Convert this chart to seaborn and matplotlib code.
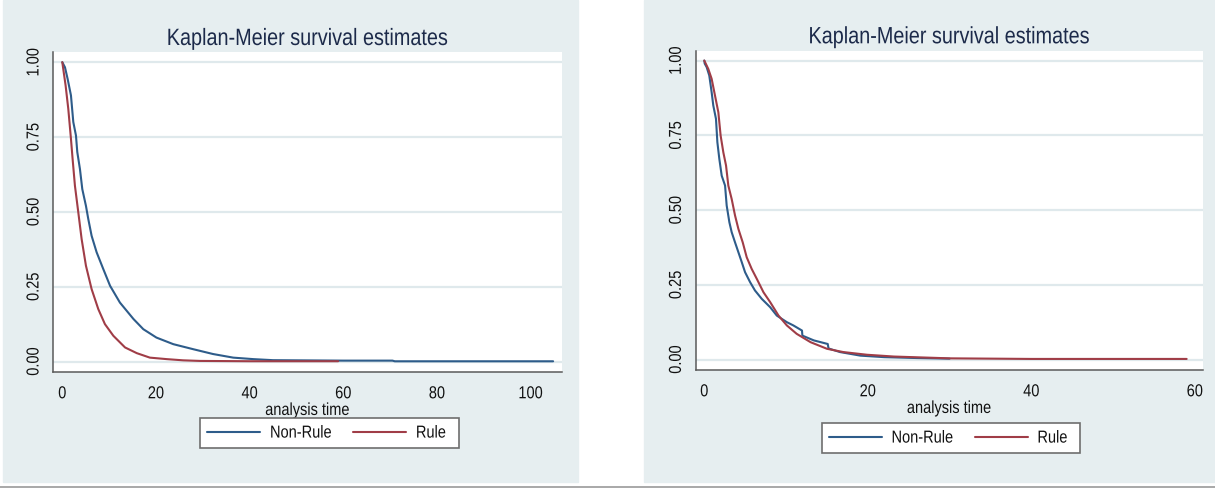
# Kaplan-Meier 存活曲線：Non-Rule vs Rule（兩個面板）

import matplotlib
matplotlib.use('Agg')
import matplotlib.pyplot as plt
from matplotlib.patches import Rectangle
from matplotlib.lines import Line2D
from matplotlib.patheffects import AbstractPathEffect
from matplotlib.transforms import Affine2D
import pandas as pd
import seaborn as sns

# 左圖數值
left_t_nonrule = [0, 0.57, 1.14, 1.85, 2.35, 2.92, 3.2, 3.77, 4.27, 5.05, 5.55, 6.26,
                  7.33, 8.75, 10.2, 12.3, 15.2, 17.3, 20.1, 23.7, 28.0, 32.2, 36.5,
                  40.8, 45.0, 50.0, 60.0, 70.5, 71.0, 104.8]
left_s_nonrule = [1.0, 0.983, 0.944, 0.889, 0.80, 0.755, 0.70, 0.643, 0.576, 0.52,
                  0.476, 0.42, 0.365, 0.309, 0.253, 0.197, 0.142, 0.108, 0.080, 0.058,
                  0.041, 0.025, 0.013, 0.008, 0.0045, 0.004, 0.003, 0.003, 0.0008, 0.0008]
left_t_rule = [0, 0.71, 1.28, 1.85, 2.2, 2.7, 3.42, 4.13, 5.05, 6.26, 7.69, 9.1, 10.9,
               13.4, 15.9, 18.7, 22.3, 25.8, 29.4, 40.0, 58.9]
left_s_rule = [1.0, 0.922, 0.844, 0.744, 0.677, 0.587, 0.498, 0.409, 0.32, 0.242, 0.175,
               0.125, 0.086, 0.047, 0.028, 0.013, 0.008, 0.004, 0.002, 0.001, 0.001]

# 右圖數值
right_t_nonrule = [0, 0.05, 0.29, 0.61, 0.9, 1.1, 1.43, 1.6, 1.84, 2.13, 2.54, 2.74,
                   3.07, 3.35, 3.76, 4.17, 4.58, 4.99, 5.6, 6.2, 7.03, 8.06, 8.87, 10.1,
                   10.9, 11.95, 12.0, 13.4, 15.1, 15.2, 16.6, 19.1, 22.0, 26.0, 30.0]
right_s_nonrule = [1.0, 0.99, 0.978, 0.95, 0.894, 0.85, 0.805, 0.727, 0.671, 0.615,
                   0.582, 0.515, 0.459, 0.426, 0.392, 0.359, 0.326, 0.292, 0.259, 0.231,
                   0.203, 0.175, 0.147, 0.125, 0.114, 0.097, 0.080, 0.064, 0.052, 0.037,
                   0.025, 0.013, 0.008, 0.005, 0.003]
right_t_rule = [0, 0.49, 0.9, 1.31, 1.72, 2.0, 2.33, 2.66, 2.94, 3.35, 3.76, 4.17, 4.7,
                5.19, 5.8, 6.42, 7.24, 8.06, 9.08, 10.1, 11.3, 13.0, 15.0, 17.0, 19.9,
                23.2, 30.0, 40.0, 59.0]
right_s_rule = [1.0, 0.972, 0.939, 0.883, 0.827, 0.749, 0.693, 0.649, 0.582, 0.537,
                0.482, 0.437, 0.392, 0.342, 0.303, 0.27, 0.225, 0.192, 0.147, 0.114,
                0.086, 0.058, 0.036, 0.025, 0.016, 0.010, 0.004, 0.002, 0.002]

groups = ['Non-Rule', 'Rule']
y_ticks = [0, 0.25, 0.5, 0.75, 1.0]
y_tick_labels = ['0.00', '0.25', '0.50', '0.75', '1.00']
left_x_ticks = [0, 20, 40, 60, 80, 100]
right_x_ticks = [0, 20, 40, 60]

colors = {'Non-Rule': '#2e5c8a', 'Rule': '#a03d47'}
BG = '#e6eef0'
W, H = 1215, 489

sns.set_theme(style='white')
plt.rcParams['font.family'] = ['Liberation Sans', 'DejaVu Sans']


class NarrowText(AbstractPathEffect):
    """把文字水平壓縮，模擬 Stata 的窄體字"""

    def __init__(self, sx=0.84, anchor='center'):
        super().__init__()
        self.sx = sx
        self.anchor = anchor

    def draw_path(self, renderer, gc, tpath, affine, rgbFace=None):
        xs = tpath.vertices[:, 0]
        if len(xs) == 0:
            return
        cx = 0.0 if self.anchor == 'left' else (xs.min() + xs.max()) / 2
        squeeze = Affine2D().translate(-cx, 0).scale(self.sx, 1).translate(cx, 0)
        renderer.draw_path(gc, tpath, squeeze + affine, rgbFace)


def make_df(t_nr, s_nr, t_r, s_r):
    """把兩組曲線組成長表格"""
    return pd.DataFrame({
        'time': list(t_nr) + list(t_r),
        'surv': list(s_nr) + list(s_r),
        'group': ['Non-Rule'] * len(t_nr) + ['Rule'] * len(t_r),
    })


def draw_panel(fig, ax, df, xlim, xticks, title_xy, legend_xy):
    sns.lineplot(data=df, x='time', y='surv', hue='group', hue_order=groups,
                 palette=colors, estimator=None, sort=False, lw=1.5, ax=ax)

    ax.set_xlim(*xlim)
    ax.set_ylim(-0.034, 1.033)
    ax.set_xticks(xticks)
    ax.set_yticks(y_ticks)
    ax.set_yticklabels(y_tick_labels)
    ax.set_ylabel('')
    ax.set_xlabel('analysis time', fontsize=12.5, labelpad=1.2, color='#111111',
                  path_effects=[NarrowText()])

    ax.set_facecolor('white')
    ax.yaxis.grid(True, color='#dfe9ec', lw=1.6)
    ax.xaxis.grid(False)
    ax.set_axisbelow(True)
    for side in ['top', 'right']:
        ax.spines[side].set_visible(False)
    for side in ['left', 'bottom']:
        ax.spines[side].set_color('#5a5a5a')
        ax.spines[side].set_linewidth(1.1)

    ax.tick_params(axis='both', direction='out', length=4.3, width=0.9,
                   color='#5a5a5a', labelsize=12.5, labelcolor='#111111')
    ax.tick_params(axis='x', pad=6.2)
    ax.tick_params(axis='y', labelrotation=90, pad=4.2)
    for lab in ax.get_yticklabels():
        lab.set_va('center')
    for lab in ax.get_xticklabels() + ax.get_yticklabels():
        lab.set_path_effects([NarrowText()])

    # 標題
    fig.text(title_xy[0] / W, 1 - title_xy[1] / H, 'Kaplan-Meier survival estimates',
             ha='center', va='baseline', fontsize=17, color='#1c2a4a',
             path_effects=[NarrowText()])

    # 圖例放在下方
    sns.move_legend(ax, 'center', bbox_to_anchor=(legend_xy[0] / W, 1 - legend_xy[1] / H),
                    bbox_transform=fig.transFigure, ncol=2, title=None, frameon=True,
                    fancybox=False, edgecolor='#6e6e6e', facecolor='white', framealpha=1,
                    fontsize=12.5, handlelength=3.05, handletextpad=0.56,
                    columnspacing=0.56, borderpad=0.4)
    leg = ax.get_legend()
    leg.get_frame().set_linewidth(1.2)
    for line in leg.get_lines():
        line.set_linewidth(1.5)
    for txt in leg.get_texts():
        txt.set_color('#111111')
        txt.set_path_effects([NarrowText(anchor='left')])


if __name__ == "__main__":
    fig = plt.figure(figsize=(W / 100, H / 100), dpi=100, facecolor='white')

    # 兩個淺藍灰色底板
    fig.patches.append(Rectangle((3 / W, 1 - 483 / H), 575 / W, 482 / H,
                                 transform=fig.transFigure, color=BG, zorder=-5))
    fig.patches.append(Rectangle((644 / W, 1 - 483 / H), 571 / W, 482 / H,
                                 transform=fig.transFigure, color=BG, zorder=-5))
    fig.lines.append(Line2D([0, 1], [1 - 488 / H, 1 - 488 / H], transform=fig.transFigure,
                            color='#9a9a9a', lw=1.2, zorder=-5))

    ax1 = fig.add_axes([53.3 / W, 1 - 372.7 / H, (562 - 53.3) / W, (372.7 - 53.3) / H])
    ax2 = fig.add_axes([695.7 / W, 1 - 370.7 / H, (1203 - 695.7) / W, (370.7 - 51.7) / H])

    draw_panel(fig, ax1, make_df(left_t_nonrule, left_s_nonrule, left_t_rule, left_s_rule),
               (-1.92, 106.7), left_x_ticks, (307.7, 46), (329.5, 434))
    draw_panel(fig, ax2, make_df(right_t_nonrule, right_s_nonrule, right_t_rule, right_s_rule),
               (-1.05, 61.0), right_x_ticks, (949.4, 44.3), (951.0, 439))

    fig.savefig('out.png', dpi=100, facecolor='white')
